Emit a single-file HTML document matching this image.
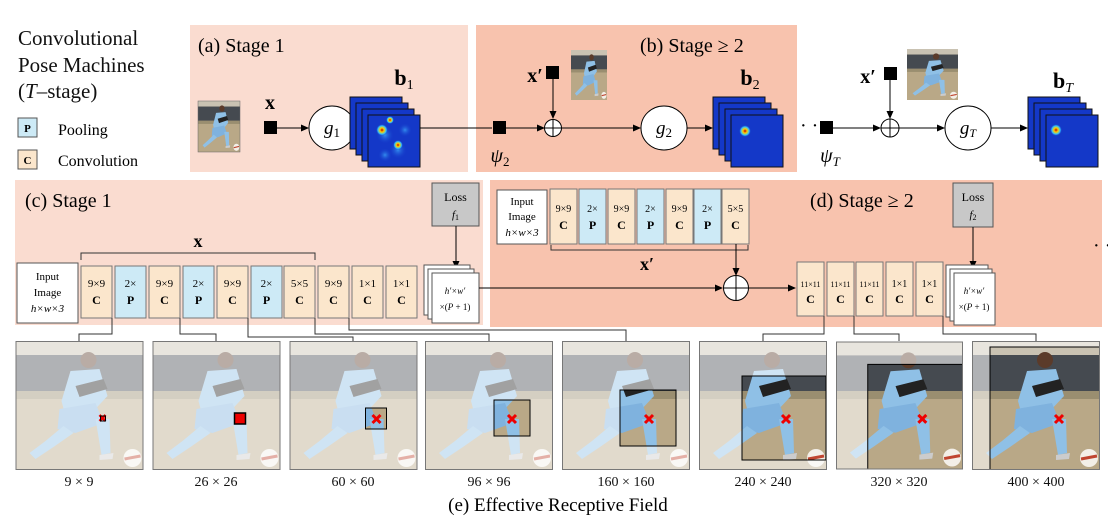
<!DOCTYPE html>
<html><head><meta charset="utf-8"><style>
html,body{margin:0;padding:0;background:#fff;}
svg{display:block;font-family:"Liberation Serif",serif;}
</style></head><body>
<svg width="1108" height="517" viewBox="0 0 1108 517" xmlns="http://www.w3.org/2000/svg">
<defs>
<marker id="ar" markerWidth="8" markerHeight="8" refX="7" refY="4" orient="auto" markerUnits="userSpaceOnUse"><path d="M0,0.5 L8,4 L0,7.5 z" fill="#000"/></marker>
<g id="scene">
<rect x="0" y="0" width="128" height="129" fill="#b9a887"/>
<rect x="0" y="0" width="128" height="14" fill="#c9c2b2"/>
<rect x="0" y="14" width="128" height="36" fill="#454a50"/>
<rect x="0" y="50" width="128" height="8" fill="#9a8e70"/>
<path d="M55,30 L84,28 L92,55 L78,70 L50,75 L46,60 Z" fill="#8fc0e6"/>
<path d="M44,68 L80,62 L88,82 L60,92 L42,88 Z" fill="#7fb2de"/>
<path d="M48,85 L30,100 L14,112 L20,118 L38,106 L58,92 Z" fill="#8fc0e6"/>
<path d="M80,78 L94,78 L95,112 L86,114 Z" fill="#8fc0e6"/>
<path d="M60,45 L88,38 L92,48 L64,56 Z" fill="#222"/>
<circle cx="73" cy="19" r="8" fill="#5b3b2a"/>
<circle cx="117" cy="117" r="9" fill="#f3efe8"/>
<path d="M109,118 L125,115" stroke="#c04530" stroke-width="3"/>
<path d="M84,114 L98,112 L97,118 L84,119Z" fill="#ccc"/>
</g>
<g id="heat">
<rect x="0" y="0" width="52" height="52" fill="#1438c8" stroke="#111" stroke-width="1"/>
</g>
<radialGradient id="spot"><stop offset="0" stop-color="#c00000"/><stop offset="0.35" stop-color="#ffd000"/><stop offset="0.7" stop-color="#30c0ff"/><stop offset="1" stop-color="#1438c8" stop-opacity="0"/></radialGradient>
<radialGradient id="soft"><stop offset="0" stop-color="#40b0ff" stop-opacity="0.7"/><stop offset="1" stop-color="#1438c8" stop-opacity="0"/></radialGradient>
</defs>

<!-- legend -->
<g font-size="21" fill="#111">
<text x="18" y="45">Convolutional</text>
<text x="18" y="72">Pose Machines</text>
<text x="18" y="98">(<tspan font-style="italic">T</tspan>–stage)</text>
</g>
<rect x="18" y="118" width="19" height="19" fill="#cdeaf6" stroke="#555"/>
<text x="27.5" y="132" font-size="11" font-weight="bold" text-anchor="middle">P</text>
<text x="58" y="135" font-size="16">Pooling</text>
<rect x="18" y="150" width="19" height="19" fill="#fbe6cc" stroke="#555"/>
<text x="27.5" y="164" font-size="11" font-weight="bold" text-anchor="middle">C</text>
<text x="58" y="166" font-size="16">Convolution</text>

<!-- panels -->
<rect x="190" y="25" width="278" height="147" fill="#fadcd0"/>
<rect x="476" y="25" width="321" height="147" fill="#f8c3ae"/>
<rect x="15" y="180" width="468" height="145" fill="#fadcd0"/>
<rect x="490" y="180" width="612" height="147" fill="#f8c3ae"/>

<text x="198" y="52" font-size="20">(a) Stage 1</text>
<text x="640" y="52" font-size="20">(b) Stage ≥ 2</text>

<!-- top row -->
<svg x="198" y="101" width="42" height="51" viewBox="0 0 128 129" preserveAspectRatio="none"><use href="#scene"/></svg>
<rect x="198" y="101" width="42" height="51" fill="none" stroke="#666" stroke-width="0.5"/>
<text x="270" y="109" font-size="20" font-weight="bold" text-anchor="middle">x</text>
<rect x="264" y="121" width="13" height="13" fill="#000"/>
<line x1="277" y1="128" x2="308" y2="128" stroke="#000" marker-end="url(#ar)"/>
<ellipse cx="332" cy="128" rx="23" ry="22" fill="#fff" stroke="#000"/>
<text x="332" y="134" font-size="19" font-style="italic" text-anchor="middle">g<tspan font-size="13" dy="3" font-style="normal">1</tspan></text>
<line x1="355" y1="128" x2="380" y2="128" stroke="#000" marker-end="url(#ar)"/>
<g><use href="#heat" x="350" y="97"/><use href="#heat" x="356" y="103"/><use href="#heat" x="362" y="109"/><use href="#heat" x="368" y="115"/></g>
<circle cx="385" cy="135" r="9" fill="url(#soft)"/><circle cx="398" cy="150" r="9" fill="url(#soft)"/><circle cx="385" cy="155" r="7" fill="url(#soft)"/><circle cx="405" cy="130" r="7" fill="url(#soft)"/>
<circle cx="382" cy="130" r="6" fill="url(#spot)"/><circle cx="398" cy="145" r="5" fill="url(#spot)"/><circle cx="390" cy="120" r="4" fill="url(#spot)"/>
<text x="404" y="85" font-size="22" font-weight="bold" text-anchor="middle">b<tspan font-size="14" dy="4" font-weight="normal">1</tspan></text>
<line x1="420" y1="128" x2="492" y2="128" stroke="#000"/>
<rect x="493" y="121" width="13" height="13" fill="#000"/>
<text x="500" y="162" font-size="20" font-style="italic" text-anchor="middle">ψ<tspan font-size="13" dy="4" font-style="normal">2</tspan></text>
<line x1="506" y1="128" x2="544" y2="128" stroke="#000" marker-end="url(#ar)"/>
<circle cx="553" cy="128" r="8.5" fill="#fff" stroke="#000"/><path d="M544.5,128h17M553,119.5v17" stroke="#000"/>
<rect x="546" y="66" width="13" height="13" fill="#000"/>
<text x="535" y="82" font-size="20" font-weight="bold" text-anchor="middle">x′</text>
<line x1="553" y1="79" x2="553" y2="118" stroke="#000" marker-end="url(#ar)"/>
<svg x="571" y="50" width="36" height="50" viewBox="0 0 128 129" preserveAspectRatio="none"><use href="#scene"/></svg>
<line x1="562" y1="128" x2="640" y2="128" stroke="#000" marker-end="url(#ar)"/>
<ellipse cx="664" cy="128" rx="23" ry="22" fill="#fff" stroke="#000"/>
<text x="664" y="134" font-size="19" font-style="italic" text-anchor="middle">g<tspan font-size="13" dy="3" font-style="normal">2</tspan></text>
<line x1="687" y1="128" x2="712" y2="128" stroke="#000" marker-end="url(#ar)"/>
<g><use href="#heat" x="713" y="97"/><use href="#heat" x="719" y="103"/><use href="#heat" x="725" y="109"/><use href="#heat" x="731" y="115"/></g>
<circle cx="745" cy="131" r="6" fill="url(#spot)"/>
<text x="750" y="85" font-size="22" font-weight="bold" text-anchor="middle">b<tspan font-size="14" dy="4" font-weight="normal">2</tspan></text>
<text x="800" y="132" font-size="20">· ·</text>

<rect x="820" y="121" width="13" height="13" fill="#000"/>
<text x="830" y="162" font-size="20" font-style="italic" text-anchor="middle">ψ<tspan font-size="13" dy="4">T</tspan></text>
<line x1="833" y1="128" x2="880" y2="128" stroke="#000" marker-end="url(#ar)"/>
<circle cx="890" cy="128" r="9" fill="#fff" stroke="#000"/><path d="M881,128h18M890,119v18" stroke="#000"/>
<rect x="884" y="67" width="13" height="13" fill="#000"/>
<text x="868" y="83" font-size="20" font-weight="bold" text-anchor="middle">x′</text>
<line x1="890" y1="80" x2="890" y2="118" stroke="#000" marker-end="url(#ar)"/>
<svg x="907" y="49" width="51" height="51" viewBox="0 0 128 129" preserveAspectRatio="none"><use href="#scene"/></svg>
<line x1="899" y1="128" x2="944" y2="128" stroke="#000" marker-end="url(#ar)"/>
<ellipse cx="968" cy="128" rx="23" ry="22" fill="#fff" stroke="#000"/>
<text x="968" y="134" font-size="19" font-style="italic" text-anchor="middle">g<tspan font-size="12" dy="3">T</tspan></text>
<line x1="991" y1="128" x2="1027" y2="128" stroke="#000" marker-end="url(#ar)"/>
<g><use href="#heat" x="1028" y="97"/><use href="#heat" x="1034" y="103"/><use href="#heat" x="1040" y="109"/><use href="#heat" x="1046" y="115"/></g>
<circle cx="1056" cy="130" r="6" fill="url(#spot)"/>
<text x="1063" y="88" font-size="22" font-weight="bold" text-anchor="middle">b<tspan font-size="14" dy="4" font-style="italic" font-weight="normal">T</tspan></text>

<!-- (c) -->
<text x="25" y="207" font-size="20">(c) Stage 1</text>
<rect x="432" y="183" width="47" height="43" fill="#c8c8c8" stroke="#555"/>
<text x="455.5" y="201" font-size="12" text-anchor="middle">Loss</text>
<text x="455.5" y="218" font-size="11" font-style="italic" text-anchor="middle">f<tspan font-size="8" dy="2" font-style="normal">1</tspan></text>
<line x1="456" y1="226" x2="456" y2="268" stroke="#000" marker-end="url(#ar)"/>
<path d="M81,260 V253 H315 V260" fill="none" stroke="#333"/>
<text x="198" y="247" font-size="18" font-weight="bold" text-anchor="middle">x</text>
<rect x="17" y="263" width="61" height="60" fill="#fff" stroke="#555"/>
<g font-size="11" text-anchor="middle"><text x="47.5" y="280">Input</text><text x="47.5" y="296">Image</text><text x="47.5" y="312" font-style="italic">h×w×3</text></g>
<g font-size="11" text-anchor="middle">
<rect x="81" y="266" width="31" height="52" fill="#fbe6cc" stroke="#777"/><text x="96.5" y="287">9×9</text><text x="96.5" y="304" font-weight="bold" font-size="12">C</text>
<rect x="115" y="266" width="31" height="52" fill="#cdeaf6" stroke="#777"/><text x="130.5" y="287">2×</text><text x="130.5" y="304" font-weight="bold" font-size="12">P</text>
<rect x="149" y="266" width="31" height="52" fill="#fbe6cc" stroke="#777"/><text x="164.5" y="287">9×9</text><text x="164.5" y="304" font-weight="bold" font-size="12">C</text>
<rect x="183" y="266" width="31" height="52" fill="#cdeaf6" stroke="#777"/><text x="198.5" y="287">2×</text><text x="198.5" y="304" font-weight="bold" font-size="12">P</text>
<rect x="217" y="266" width="31" height="52" fill="#fbe6cc" stroke="#777"/><text x="232.5" y="287">9×9</text><text x="232.5" y="304" font-weight="bold" font-size="12">C</text>
<rect x="251" y="266" width="31" height="52" fill="#cdeaf6" stroke="#777"/><text x="266.5" y="287">2×</text><text x="266.5" y="304" font-weight="bold" font-size="12">P</text>
<rect x="284" y="266" width="31" height="52" fill="#fbe6cc" stroke="#777"/><text x="299.5" y="287">5×5</text><text x="299.5" y="304" font-weight="bold" font-size="12">C</text>
<rect x="318" y="266" width="31" height="52" fill="#fbe6cc" stroke="#777"/><text x="333.5" y="287">9×9</text><text x="333.5" y="304" font-weight="bold" font-size="12">C</text>
<rect x="352" y="266" width="31" height="52" fill="#fbe6cc" stroke="#777"/><text x="367.5" y="287">1×1</text><text x="367.5" y="304" font-weight="bold" font-size="12">C</text>
<rect x="386" y="266" width="31" height="52" fill="#fbe6cc" stroke="#777"/><text x="401.5" y="287">1×1</text><text x="401.5" y="304" font-weight="bold" font-size="12">C</text>
</g>
<g fill="#fff" stroke="#555"><rect x="424" y="265" width="46" height="50"/><rect x="428" y="269" width="46" height="50"/><rect x="432" y="273" width="47" height="50"/></g>
<text x="455" y="294" font-size="9" font-style="italic" text-anchor="middle">h′×w′</text>
<text x="455" y="310" font-size="9" text-anchor="middle">×(<tspan font-style="italic">P</tspan> + 1)</text>
<line x1="479" y1="288" x2="722" y2="288" stroke="#000" marker-end="url(#ar)"/>

<!-- (d) -->
<text x="810" y="207" font-size="20">(d) Stage ≥ 2</text>
<rect x="953" y="183" width="40" height="44" fill="#c8c8c8" stroke="#555"/>
<text x="973" y="201" font-size="12" text-anchor="middle">Loss</text>
<text x="973" y="218" font-size="11" font-style="italic" text-anchor="middle">f<tspan font-size="8" dy="2" font-style="normal">2</tspan></text>
<line x1="973" y1="227" x2="973" y2="268" stroke="#000" marker-end="url(#ar)"/>
<text x="1093" y="252" font-size="20">· ·</text>
<rect x="497" y="190" width="50" height="54" fill="#fff" stroke="#555"/>
<g font-size="11" text-anchor="middle"><text x="522" y="205">Input</text><text x="522" y="220">Image</text><text x="522" y="236" font-style="italic">h×w×3</text></g>
<g font-size="10" text-anchor="middle">
<rect x="550" y="189" width="27" height="55" fill="#fbe6cc" stroke="#777"/><text x="563.5" y="212">9×9</text><text x="563.5" y="229" font-weight="bold" font-size="12">C</text>
<rect x="579" y="189" width="27" height="55" fill="#cdeaf6" stroke="#777"/><text x="592.5" y="212">2×</text><text x="592.5" y="229" font-weight="bold" font-size="12">P</text>
<rect x="608" y="189" width="27" height="55" fill="#fbe6cc" stroke="#777"/><text x="621.5" y="212">9×9</text><text x="621.5" y="229" font-weight="bold" font-size="12">C</text>
<rect x="637" y="189" width="27" height="55" fill="#cdeaf6" stroke="#777"/><text x="650.5" y="212">2×</text><text x="650.5" y="229" font-weight="bold" font-size="12">P</text>
<rect x="666" y="189" width="27" height="55" fill="#fbe6cc" stroke="#777"/><text x="679.5" y="212">9×9</text><text x="679.5" y="229" font-weight="bold" font-size="12">C</text>
<rect x="694" y="189" width="27" height="55" fill="#cdeaf6" stroke="#777"/><text x="707.5" y="212">2×</text><text x="707.5" y="229" font-weight="bold" font-size="12">P</text>
<rect x="722" y="189" width="27" height="55" fill="#fbe6cc" stroke="#777"/><text x="735.5" y="212">5×5</text><text x="735.5" y="229" font-weight="bold" font-size="12">C</text>
</g>
<path d="M551,245 V250 H748 V245" fill="none" stroke="#333"/>
<text x="647" y="270" font-size="18" font-weight="bold" text-anchor="middle">x′</text>
<line x1="736" y1="244" x2="736" y2="275" stroke="#000" marker-end="url(#ar)"/>
<circle cx="736" cy="288" r="12.5" fill="#fff" stroke="#000"/><path d="M723.5,288h25M736,275.5v25" stroke="#000"/>
<line x1="748" y1="288" x2="795" y2="288" stroke="#000" marker-end="url(#ar)"/>
<g text-anchor="middle">
<rect x="797" y="262" width="27" height="54" fill="#fbe6cc" stroke="#777"/><text x="810.5" y="287" font-size="8">11×11</text><text x="810.5" y="303" font-weight="bold" font-size="12">C</text>
<rect x="827" y="262" width="27" height="54" fill="#fbe6cc" stroke="#777"/><text x="840.5" y="287" font-size="8">11×11</text><text x="840.5" y="303" font-weight="bold" font-size="12">C</text>
<rect x="856" y="262" width="27" height="54" fill="#fbe6cc" stroke="#777"/><text x="869.5" y="287" font-size="8">11×11</text><text x="869.5" y="303" font-weight="bold" font-size="12">C</text>
<rect x="886" y="262" width="27" height="54" fill="#fbe6cc" stroke="#777"/><text x="899.5" y="287" font-size="10">1×1</text><text x="899.5" y="303" font-weight="bold" font-size="12">C</text>
<rect x="916" y="262" width="27" height="54" fill="#fbe6cc" stroke="#777"/><text x="929.5" y="287" font-size="10">1×1</text><text x="929.5" y="303" font-weight="bold" font-size="12">C</text>
</g>
<g fill="#fff" stroke="#555"><rect x="946" y="265" width="42" height="52"/><rect x="950" y="269" width="42" height="52"/><rect x="954" y="273" width="41" height="52"/></g>
<text x="974" y="294" font-size="9" font-style="italic" text-anchor="middle">h′×w′</text>
<text x="974" y="310" font-size="9" text-anchor="middle">×(<tspan font-style="italic">P</tspan> + 1)</text>

<!-- connectors -->
<g fill="none" stroke="#333" stroke-width="1">
<path d="M112,318 V334 H79 V341"/>
<path d="M180,318 V334 H216 V341"/>
<path d="M248,318 V337 H353 V341"/>
<path d="M315,318 V334 H489 V341"/>
<path d="M349,318 V330 H626 V341"/>
<path d="M824,316 V334 H763 V341"/>
<path d="M854,316 V334 H899 V341"/>
<path d="M943,316 V334 H1036 V341"/>
</g>

<!-- bottom photos -->
<svg x="15" y="341" width="129" height="129" viewBox="0 0 128 129"><rect width="128" height="129" fill="#fff"/><use href="#scene" opacity="0.42"/><path d="M84,74l6,6M90,74l-6,6" stroke="#e00" stroke-width="2.5"/><rect x="85" y="75" width="5" height="5" fill="none" stroke="#000" stroke-width="1"/><rect x="0.5" y="0.5" width="127" height="128" fill="none" stroke="#777"/></svg>
<svg x="152" y="341" width="129" height="129" viewBox="0 0 128 129"><rect width="128" height="129" fill="#fff"/><use href="#scene" opacity="0.42"/><rect x="82" y="72" width="11" height="11" fill="#e00" stroke="#000" stroke-width="1.5"/><rect x="0.5" y="0.5" width="127" height="128" fill="none" stroke="#777"/></svg>
<svg x="289" y="341" width="129" height="129" viewBox="0 0 128 129"><clipPath id="c3"><rect x="76" y="67" width="21" height="21"/></clipPath><rect width="128" height="129" fill="#fff"/><use href="#scene" opacity="0.42"/><use href="#scene" clip-path="url(#c3)"/><path d="M83,74l8,8M91,74l-8,8" stroke="#e00" stroke-width="3"/><rect x="76" y="67" width="21" height="21" fill="none" stroke="#000" stroke-width="1"/><rect x="0.5" y="0.5" width="127" height="128" fill="none" stroke="#777"/></svg>
<svg x="425" y="341" width="128" height="129" viewBox="0 0 128 129"><clipPath id="c4"><rect x="69" y="59" width="36" height="36"/></clipPath><rect width="128" height="129" fill="#fff"/><use href="#scene" opacity="0.42"/><use href="#scene" clip-path="url(#c4)"/><path d="M83,74l8,8M91,74l-8,8" stroke="#e00" stroke-width="3"/><rect x="69" y="59" width="36" height="36" fill="none" stroke="#000" stroke-width="1"/><rect x="0.5" y="0.5" width="127" height="128" fill="none" stroke="#777"/></svg>
<svg x="562" y="341" width="128" height="129" viewBox="0 0 128 129"><clipPath id="c5"><rect x="58" y="49" width="56" height="56"/></clipPath><rect width="128" height="129" fill="#fff"/><use href="#scene" opacity="0.42"/><use href="#scene" clip-path="url(#c5)"/><path d="M83,74l8,8M91,74l-8,8" stroke="#e00" stroke-width="3"/><rect x="58" y="49" width="56" height="56" fill="none" stroke="#000" stroke-width="1"/><rect x="0.5" y="0.5" width="127" height="128" fill="none" stroke="#777"/></svg>
<svg x="699" y="341" width="128" height="129" viewBox="0 0 128 129"><clipPath id="c6"><rect x="43" y="35" width="85" height="84"/></clipPath><rect width="128" height="129" fill="#fff"/><use href="#scene" opacity="0.42"/><use href="#scene" clip-path="url(#c6)"/><path d="M83,74l8,8M91,74l-8,8" stroke="#e00" stroke-width="3"/><rect x="43" y="35" width="84" height="84" fill="none" stroke="#000" stroke-width="1"/><rect x="0.5" y="0.5" width="127" height="128" fill="none" stroke="#777"/></svg>
<svg x="836" y="341" width="127" height="129" viewBox="0 0 128 129"><clipPath id="c7"><rect x="32" y="23" width="96" height="106"/></clipPath><rect width="128" height="129" fill="#fff"/><use href="#scene" opacity="0.42"/><use href="#scene" clip-path="url(#c7)"/><path d="M83,74l8,8M91,74l-8,8" stroke="#e00" stroke-width="3"/><path d="M32,129 V23 H128" fill="none" stroke="#000" stroke-width="1"/><rect x="0.5" y="0.5" width="127" height="128" fill="none" stroke="#777"/></svg>
<svg x="972" y="341" width="128" height="129" viewBox="0 0 128 129"><clipPath id="c8"><rect x="18" y="6" width="110" height="123"/></clipPath><rect width="128" height="129" fill="#fff"/><use href="#scene" opacity="0.42"/><use href="#scene" clip-path="url(#c8)"/><path d="M83,74l8,8M91,74l-8,8" stroke="#e00" stroke-width="3"/><path d="M18,129 V6 H128" fill="none" stroke="#000" stroke-width="1"/><rect x="0.5" y="0.5" width="127" height="128" fill="none" stroke="#777"/></svg>

<g font-size="14" text-anchor="middle" fill="#111">
<text x="79" y="486">9 × 9</text>
<text x="216" y="486">26 × 26</text>
<text x="353" y="486">60 × 60</text>
<text x="489" y="486">96 × 96</text>
<text x="626" y="486">160 × 160</text>
<text x="763" y="486">240 × 240</text>
<text x="899" y="486">320 × 320</text>
<text x="1036" y="486">400 × 400</text>
</g>
<text x="558" y="511" font-size="19" text-anchor="middle">(e) Effective Receptive Field</text>
</svg>
</body></html>
